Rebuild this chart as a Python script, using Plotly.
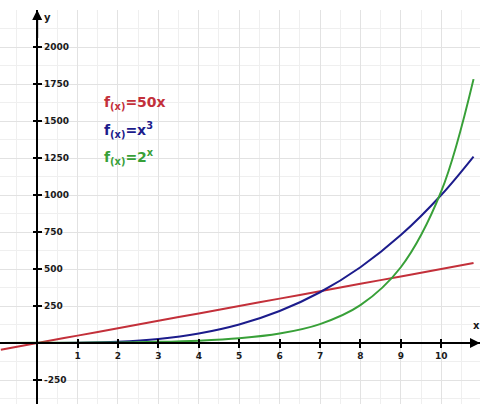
import plotly.graph_objects as go

# sample points
xs = [-0.9, 0, 1, 2, 3, 4, 5, 6, 7, 8, 9, 10, 10.8]
linear_y = [-45, 0, 50, 100, 150, 200, 250, 300, 350, 400, 450, 500, 540]
cube_y = [-0.7, 0, 1, 8, 27, 64, 125, 216, 343, 512, 729, 1000, 1260]
exp_y = [0.5, 1, 2, 4, 8, 16, 32, 64, 128, 256, 512, 1024, 1783]

x_ticks = [1, 2, 3, 4, 5, 6, 7, 8, 9, 10]
y_ticks = [-250, 250, 500, 750, 1000, 1250, 1500, 1750, 2000]
y_tick_text = ['-250', '250', '500', '750', '1000', '1250', '1500', '1750', '2000']

labels = ['f<sub>(x)</sub>=50x', 'f<sub>(x)</sub>=x<sup>3</sup>', 'f<sub>(x)</sub>=2<sup>x</sup>']
label_y = [1622, 1436, 1258]

RED = '#c3303a'
BLUE = '#1c1c8c'
GREEN = '#38a038'

X_RANGE = [-0.92, 10.96]
Y_RANGE = [-412, 2250]
x_zero = -X_RANGE[0] / (X_RANGE[1] - X_RANGE[0])
y_zero = -Y_RANGE[0] / (Y_RANGE[1] - Y_RANGE[0])

fig = go.Figure()
for ys, color in [(linear_y, RED), (cube_y, BLUE), (exp_y, GREEN)]:
    fig.add_trace(go.Scatter(x=xs, y=ys, mode='lines',
                             line=dict(color=color, width=2, shape='spline'),
                             showlegend=False, hoverinfo='skip'))

# dummy trace so the overlay axes (inner half of the ticks) get drawn
fig.add_trace(go.Scatter(x=[None], y=[None], xaxis='x2', yaxis='y2', showlegend=False))

tick_font = dict(family='DejaVu Sans', size=9, color='#1a1a1a', weight='bold')

fig.update_layout(
    width=500, height=404,
    margin=dict(l=0, r=20, t=10, b=0),
    paper_bgcolor='white', plot_bgcolor='white',
    xaxis=dict(range=X_RANGE, tickvals=x_ticks, anchor='free', position=y_zero,
               automargin=False,
               showline=True, linecolor='black', linewidth=2,
               ticks='outside', ticklen=4, tickwidth=2, tickcolor='black',
               tickfont=tick_font, showgrid=True, gridcolor='#e2e2e2', gridwidth=1,
               minor=dict(tick0=0, dtick=0.5, showgrid=True, gridcolor='#efefef'),
               zeroline=False),
    yaxis=dict(range=Y_RANGE, tickvals=y_ticks, ticktext=y_tick_text,
               anchor='free', position=x_zero, side='right', automargin=False,
               showline=True, linecolor='black', linewidth=2,
               ticks='outside', ticklen=4, tickwidth=2, tickcolor='black',
               tickfont=tick_font, showgrid=True, gridcolor='#e2e2e2', gridwidth=1,
               minor=dict(tick0=0, dtick=125, showgrid=True, gridcolor='#efefef'),
               zeroline=False),
    xaxis2=dict(range=X_RANGE, tickvals=x_ticks, overlaying='x', anchor='free', position=y_zero,
                automargin=False,
                ticks='inside', ticklen=4, tickwidth=2, tickcolor='black',
                showticklabels=False, showgrid=False, zeroline=False),
    yaxis2=dict(range=Y_RANGE, tickvals=y_ticks, overlaying='y', anchor='free', position=x_zero,
                side='right', automargin=False,
                ticks='inside', ticklen=4, tickwidth=2, tickcolor='black',
                showticklabels=False, showgrid=False, zeroline=False),
)

# arrowheads on the axes
fig.add_annotation(x=X_RANGE[1], y=0, ax=X_RANGE[1] - 0.4, ay=0, xref='x', yref='y',
                   axref='x', ayref='y', showarrow=True, arrowhead=2, arrowsize=1,
                   arrowwidth=2, arrowcolor='black', text='')
fig.add_annotation(x=0, y=Y_RANGE[1], ax=0, ay=Y_RANGE[1] - 200, xref='x', yref='y',
                   axref='x', ayref='y', showarrow=True, arrowhead=2, arrowsize=1,
                   arrowwidth=2, arrowcolor='black', text='')

axis_font = dict(family='DejaVu Sans', size=10, color='#1a1a1a', weight='bold')
fig.add_annotation(x=10.88, y=70, text='x', showarrow=False, font=axis_font,
                   xanchor='center', yanchor='bottom')
fig.add_annotation(x=0.12, y=Y_RANGE[1], text='y', showarrow=False, font=axis_font,
                   xanchor='left', yanchor='top')

for text, ypos, color in zip(labels, label_y, [RED, BLUE, GREEN]):
    fig.add_annotation(x=1.6, y=ypos, text=text, showarrow=False, xanchor='left',
                       yanchor='middle',
                       font=dict(family='DejaVu Sans', size=14, color=color, weight='bold'))

# the page body has a default 8px margin; drop it so the figure sits at the window corner
fig.write_html("out.html", config={'displayModeBar': False},
               post_script="document.body.style.margin = '0';")
